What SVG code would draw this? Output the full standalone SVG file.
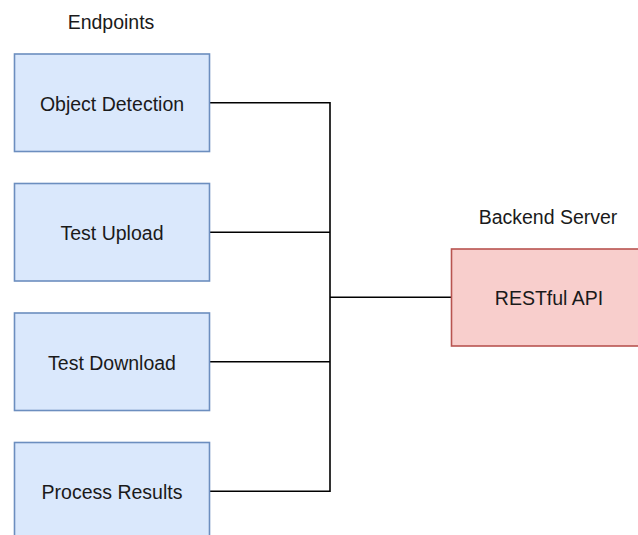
<svg xmlns="http://www.w3.org/2000/svg" width="638" height="535" viewBox="0 0 638 535">
  <style>
    .endpoint rect { fill: #dae8fc; stroke: #6c8ebf; stroke-width: 1.6; }
    .server rect { fill: #f8cecc; stroke: #b85450; stroke-width: 1.6; }
    text { font-family: "Liberation Sans", Arial, Helvetica, sans-serif; font-size: 19.5px; fill: #1a1a1a; text-anchor: middle; }
    #connectors path { fill: none; stroke: #000; stroke-width: 1.6; }
  </style>
  <rect width="638" height="535" fill="#ffffff"/>

  <!-- group titles -->
  <text x="111" y="28.5">Endpoints</text>
  <text x="548" y="223.5">Backend Server</text>

  <!-- connectors: endpoints joined on a shared trunk into the API -->
  <g id="connectors">
    <path d="M209.5 102.75 H330 V491.25 H209.5"/>
    <path d="M209.5 232.25 H330"/>
    <path d="M209.5 361.75 H330"/>
    <path d="M330 297.3 H451.5"/>
  </g>

  <g id="object-detection" class="endpoint">
    <rect x="14.5" y="54" width="195" height="97.5"/>
    <text x="112" y="110.5">Object Detection</text>
  </g>
  <g id="test-upload" class="endpoint">
    <rect x="14.5" y="183.5" width="195" height="97.5"/>
    <text x="112" y="240">Test Upload</text>
  </g>
  <g id="test-download" class="endpoint">
    <rect x="14.5" y="313" width="195" height="97.5"/>
    <text x="112" y="369.5">Test Download</text>
  </g>
  <g id="process-results" class="endpoint">
    <rect x="14.5" y="442.5" width="195" height="97.5"/>
    <text x="112" y="499">Process Results</text>
  </g>

  <g id="restful-api" class="server">
    <rect x="451.5" y="249" width="195" height="97"/>
    <text x="549" y="305">RESTful API</text>
  </g>
</svg>
